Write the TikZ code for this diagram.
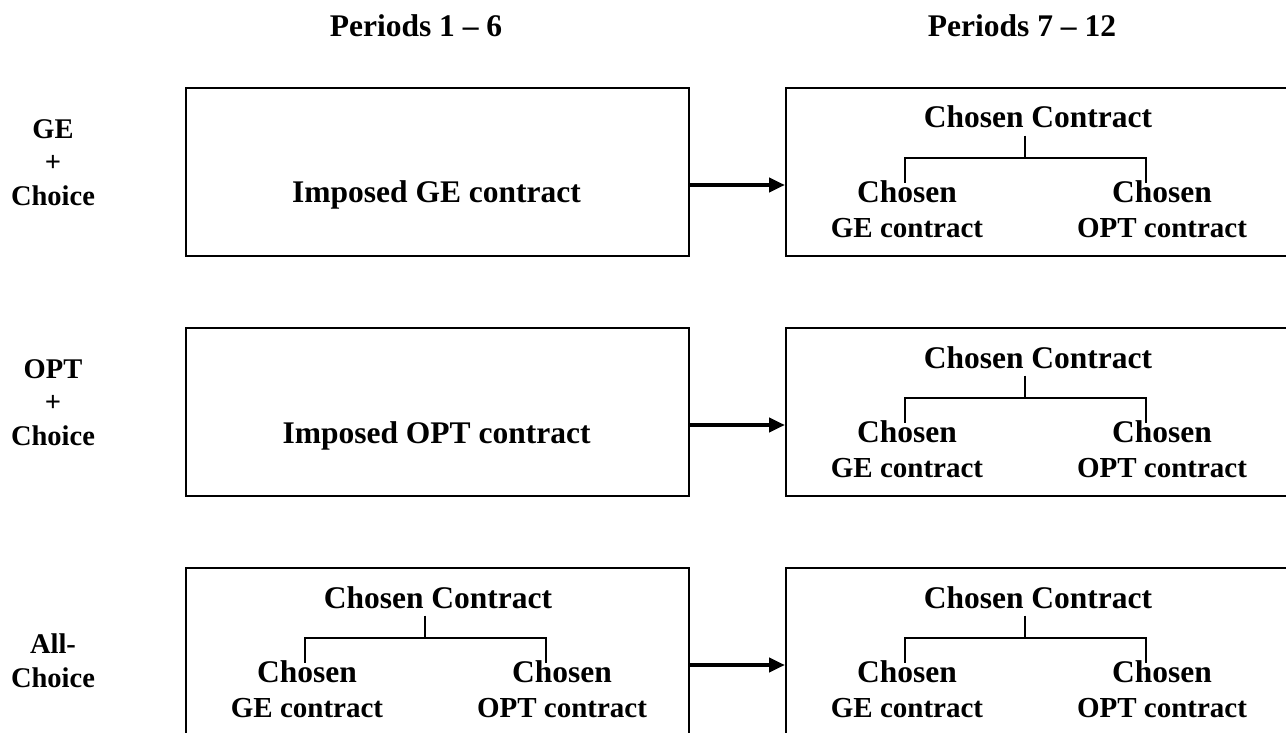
\documentclass[tikz,border=0pt]{standalone}
\usepackage{fontspec}
\setmainfont{Liberation Serif}
\usetikzlibrary{arrows.meta,positioning}

\newcommand{\kidsize}{\fontsize{29}{35}\selectfont}

\tikzset{
    panel/.style={draw,line width=2pt,minimum width=503pt,minimum height=168pt,
        inner sep=0pt,anchor=north west},
    bigtxt/.style={font=\fontsize{31.5}{35}\selectfont\bfseries,inner sep=0pt,anchor=base},
    kidtxt/.style={bigtxt,align=center},
    rowtxt/.style={font=\fontsize{28.5}{33.5}\selectfont\bfseries,inner sep=0pt,
        anchor=base,align=center},
    branch/.style={line width=2pt},
    flow/.style={line width=4pt,-{Triangle[length=16pt,width=14pt]}}
}

\begin{document}
\begin{tikzpicture}[x=1pt,y=-1pt]
    \useasboundingbox (0,0) rectangle (1286,733);

    % column headings
    \node [bigtxt] (per1) at (416,37) {Periods 1 -- 6};
    \node [bigtxt] (per2) at (1022,37) {Periods 7 -- 12};

    % row labels (base = last line)
    \node [rowtxt] (row1) at (53,205) {GE\\+\\Choice};
    \node [rowtxt] (row2) at (53,445) {OPT\\+\\Choice};
    \node [rowtxt] (row3) at (53,687) {All-\\Choice};

    % boxes
    \node [panel] (b11) at (185,87) {};
    \node [panel] (b12) at (785,87) {};
    \node [panel] (b21) at (185,327) {};
    \node [panel] (b22) at (785,327) {};
    \node [panel] (b31) at (185,567) {};
    \node [panel] (b32) at (785,567) {};

    \node [bigtxt] (imp1) at (436.5,203) {Imposed GE contract};
    \node [bigtxt] (imp2) at (436.5,443) {Imposed OPT contract};

    \foreach \r in {1,2,3} {
        \draw [flow] ([yshift=-13pt]b\r1.east) -- ([yshift=-13pt]b\r2.west);
    }

    % choice trees
    \foreach \n/\x/\y in {b12/785/87,b22/785/327,b31/185/567,b32/785/567} {
        \node [bigtxt,inner ysep=7pt] (\n-top) at (\x+253,\y+41) {Chosen Contract};
        \coordinate (\n-fork) at (\x+240,\y+71);
        \coordinate (\n-l) at (\x+120,\y+71);
        \coordinate (\n-r) at (\x+361,\y+71);
        \node [kidtxt] (\n-ge) at (\x+122,\y+150) {Chosen\\{\kidsize GE contract}};
        \node [kidtxt] (\n-opt) at (\x+377,\y+150) {Chosen\\{\kidsize OPT contract}};
        \draw [branch] (\n-top.south -| \n-fork) -- (\n-fork);
        \draw [branch] ([yshift=-3pt]\n-ge.north -| \n-l) -- (\n-l) -- (\n-r)
            -- ([yshift=-3pt]\n-opt.north -| \n-r);
    }
\end{tikzpicture}
\end{document}
